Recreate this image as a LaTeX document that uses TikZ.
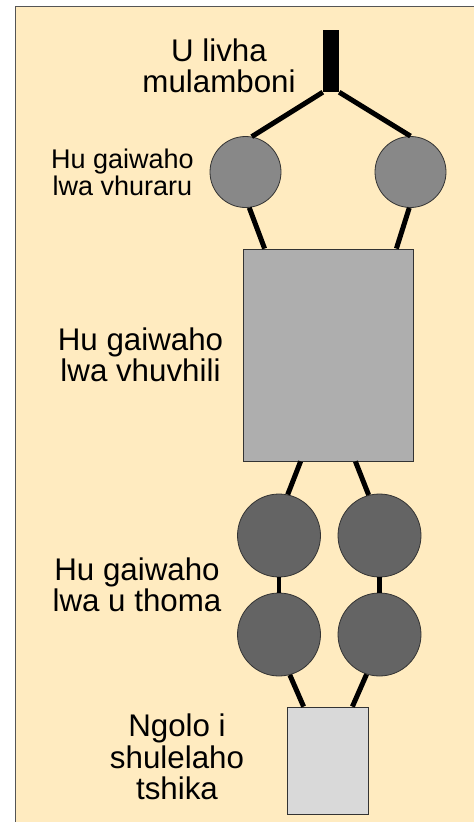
\documentclass[tikz,border=0pt]{standalone}
\usepackage{fontspec}
\setmainfont{Liberation Sans}
\usetikzlibrary{calc}
\definecolor{paper}{HTML}{FFEBC0}
\definecolor{frameline}{HTML}{555555}
\definecolor{midgray}{HTML}{888888}
\definecolor{lightgray}{HTML}{AEAEAE}
\definecolor{darkgray}{HTML}{646464}
\definecolor{palegray}{HTML}{D9D9D9}
\tikzset{
  part/.style={draw=black!80, line width=0.8pt, inner sep=0pt},
  ball/.style={part, circle},
  link/.style={line width=5pt, black},
  caption/.style={align=center, inner sep=0pt, font=\fontsize{31.3}{31.5}\selectfont},
  smallcaption/.style={align=center, inner sep=0pt, font=\fontsize{27}{27}\selectfont}
}
\begin{document}
\begin{tikzpicture}[x=1pt, y=-1pt]
  \useasboundingbox (0,0) rectangle (474,822);
  % paper and its frame
  \fill[paper] (15,6) rectangle (474,822);
  \draw[frameline, line width=1pt] (15,822) -- (15,6) -- (474,6);

  % parts
  \node[fill=black, inner sep=0pt, minimum width=16pt, minimum height=62pt] (bar) at (331,61) {};
  \node[ball, fill=midgray, minimum size=71pt] (t1) at (245.5,172) {};
  \node[ball, fill=midgray, minimum size=71pt] (t2) at (410.5,172) {};
  \node[part, fill=lightgray, minimum width=170pt, minimum height=212pt] (mid) at (328,355) {};
  \node[ball, fill=darkgray, minimum size=83pt] (d1) at (279,535.5) {};
  \node[ball, fill=darkgray, minimum size=83pt] (d2) at (379.5,535.5) {};
  \node[ball, fill=darkgray, minimum size=83pt] (d3) at (279,634.5) {};
  \node[ball, fill=darkgray, minimum size=83pt] (d4) at (379.5,634.5) {};
  \node[part, fill=palegray, minimum width=81pt, minimum height=107pt] (low) at (327.5,760.5) {};

  % connectors
  \draw[link] (bar.south west) -- (t1.80);
  \draw[link] (bar.south east) -- (t2.90);
  \draw[link] (t1.-84) -- ([xshift=22pt]mid.north west);
  \draw[link] (t2.-92) -- ([xshift=-17pt]mid.north east);
  \draw[link] ([xshift=58pt]mid.south west) -- (d1.78);
  \draw[link] ([xshift=-58pt]mid.south east) -- (d2.105);
  \draw[link, line width=4.5pt] (d1.south) -- (d3.north);
  \draw[link, line width=4.5pt] (d2.south) -- (d4.north);
  \draw[link] (d3.-75) -- ([xshift=17pt]low.north west);
  \draw[link] (d4.-108) -- ([xshift=-16pt]low.north east);

  % labels
  \node[caption] (lab0) at (219,66) {U livha\\mulamboni};
  \node[smallcaption] (lab1) at (122.5,172) {Hu gaiwaho\\lwa vhuraru};
  \node[caption] (lab2) at (140.5,355) {Hu gaiwaho\\lwa vhuvhili};
  \node[caption] (lab3) at (137,585) {Hu gaiwaho\\lwa u thoma};
  \node[caption] (lab4) at (177,757) {Ngolo i\\shulelaho\\tshika};
\end{tikzpicture}
\end{document}
